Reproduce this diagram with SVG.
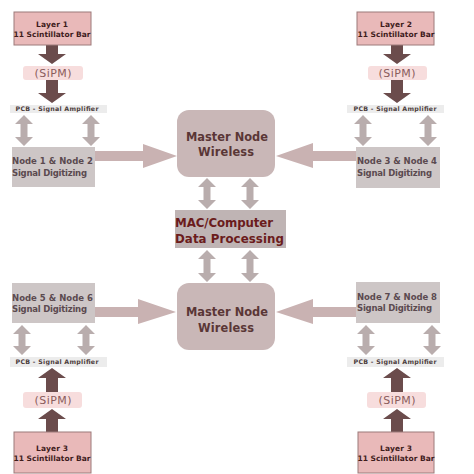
<svg xmlns="http://www.w3.org/2000/svg" width="474" height="474" viewBox="0 0 474 474">
<style>
text{font-family:"DejaVu Sans","Liberation Sans",Arial,sans-serif;font-weight:bold}
.layer{fill:#e9b9b9;stroke:#9c7a7a;stroke-width:1}
.lt{font-size:7.5px;fill:#3f1c1c;text-anchor:middle}
.sipm{fill:#f7dddd}
.st{font-size:11px;font-weight:normal;fill:#8a5c5c;text-anchor:middle}
.pcb{fill:#ececec}
.pt{font-size:6.3px;fill:#4d3d3d;text-anchor:middle}
.node{fill:#cdc6c6}
.nt{font-size:8.5px;fill:#5b4a50}
.master{fill:#c9b7b7}
.mt{font-size:11.4px;fill:#5a3636;text-anchor:middle}
.mac{fill:#bfb4b4}
.ct{font-size:11.8px;fill:#6b1c1c}
.dark{fill:#6b4c4c}
.dbl{fill:#b9adad}
.big{fill:#c9b2b2}
</style>
<g id="connectors">
<path class="dark" d="M46,45 H58 V54 H66 L52,64 L38,54 H46 Z"/>
<path class="dark" d="M46,80 H58 V93 H66 L52,103 L38,93 H46 Z"/>
<path class="dark" d="M391,45 H403 V54 H411 L397,64 L383,54 H391 Z"/>
<path class="dark" d="M391,80 H403 V93 H411 L397,103 L383,93 H391 Z"/>
<path class="dark" d="M46,392 V378 H38 L52,368 L66,378 H58 V392 Z"/>
<path class="dark" d="M46,432 V419 H38 L52,409 L66,419 H58 V432 Z"/>
<path class="dark" d="M391,392 V378 H383 L397,368 L411,378 H403 V392 Z"/>
<path class="dark" d="M391,432 V419 H383 L397,409 L411,419 H403 V432 Z"/>
<path class="dbl" d="M24,115 L33,124 H27.5 V137 H33 L24,146 L15,137 H20.5 V124 H15 Z"/>
<path class="dbl" d="M91,115 L100,124 H94.5 V137 H100 L91,146 L82,137 H87.5 V124 H82 Z"/>
<path class="dbl" d="M363,115 L372,124 H366.5 V137 H372 L363,146 L354,137 H359.5 V124 H354 Z"/>
<path class="dbl" d="M428,115 L437,124 H431.5 V137 H437 L428,146 L419,137 H424.5 V124 H419 Z"/>
<path class="dbl" d="M22,325 L31,334 H25.5 V346 H31 L22,355 L13,346 H18.5 V334 H13 Z"/>
<path class="dbl" d="M86,325 L95,334 H89.5 V346 H95 L86,355 L77,346 H82.5 V334 H77 Z"/>
<path class="dbl" d="M366,325 L375,334 H369.5 V346 H375 L366,355 L357,346 H362.5 V334 H357 Z"/>
<path class="dbl" d="M432,325 L441,334 H435.5 V346 H441 L432,355 L423,346 H428.5 V334 H423 Z"/>
<path class="dbl" d="M207,178 L216,187 H210.5 V200 H216 L207,209 L198,200 H203.5 V187 H198 Z"/>
<path class="dbl" d="M250,178 L259,187 H253.5 V200 H259 L250,209 L241,200 H246.5 V187 H241 Z"/>
<path class="dbl" d="M207,250 L216,259 H210.5 V273 H216 L207,282 L198,273 H203.5 V259 H198 Z"/>
<path class="dbl" d="M250,250 L259,259 H253.5 V273 H259 L250,282 L241,273 H246.5 V259 H241 Z"/>
<path class="big" d="M95,151 H143 V144 L177,156 L143,168 V161 H95 Z"/>
<path class="big" d="M356,151 H313 V143 L276,156 L313,168 V161 H356 Z"/>
<path class="big" d="M95,307 H138 V299 L176,312 L138,324 V317 H95 Z"/>
<path class="big" d="M356,307 H313 V299 L276,312 L313,324 V317 H356 Z"/>
</g>
<g id="layer1"><rect class="layer" x="14" y="12" width="77" height="33"/><text class="lt" x="52" y="27" textLength="32">Layer 1</text><text class="lt" x="52" y="37" textLength="77">11 Scintillator Bar</text></g>
<g id="layer2"><rect class="layer" x="357" y="12" width="77" height="33"/><text class="lt" x="396" y="27" textLength="32">Layer 2</text><text class="lt" x="396" y="37" textLength="77">11 Scintillator Bar</text></g>
<g id="layer3a"><rect class="layer" x="14" y="432" width="77" height="41"/><text class="lt" x="52" y="451" textLength="32">Layer 3</text><text class="lt" x="52" y="461" textLength="77">11 Scintillator Bar</text></g>
<g id="layer3b"><rect class="layer" x="358" y="432" width="76" height="41"/><text class="lt" x="396" y="451" textLength="32">Layer 3</text><text class="lt" x="396" y="461" textLength="77">11 Scintillator Bar</text></g>
<g id="sipm1"><rect class="sipm" x="23" y="66" width="60" height="14" rx="3"/><text class="st" x="53" y="77" textLength="37">(SiPM)</text></g>
<g id="sipm2"><rect class="sipm" x="368" y="66" width="59" height="14" rx="3"/><text class="st" x="397" y="77" textLength="37">(SiPM)</text></g>
<g id="sipm3"><rect class="sipm" x="23" y="392" width="59" height="16" rx="3"/><text class="st" x="53" y="404" textLength="37">(SiPM)</text></g>
<g id="sipm4"><rect class="sipm" x="367" y="392" width="59" height="16" rx="3"/><text class="st" x="397" y="404" textLength="37">(SiPM)</text></g>
<g id="pcb1"><rect class="pcb" x="10" y="105" width="97" height="8"/><text class="pt" x="57" y="111.3" textLength="83">PCB - Signal Amplifier</text></g>
<g id="pcb2"><rect class="pcb" x="347" y="105" width="97" height="8"/><text class="pt" x="395" y="111.3" textLength="83">PCB - Signal Amplifier</text></g>
<g id="pcb3"><rect class="pcb" x="10" y="357" width="97" height="10"/><text class="pt" x="57" y="364.3" textLength="83">PCB - Signal Amplifier</text></g>
<g id="pcb4"><rect class="pcb" x="347" y="357" width="97" height="10"/><text class="pt" x="395" y="364.3" textLength="83">PCB - Signal Amplifier</text></g>
<g id="node12"><rect class="node" x="12" y="147" width="83" height="40"/><text class="nt" x="12" y="164" textLength="81">Node 1 &amp; Node 2</text><text class="nt" x="12" y="176" textLength="75">Signal Digitizing</text></g>
<g id="node34"><rect class="node" x="356" y="147" width="84" height="41"/><text class="nt" x="357" y="164" textLength="80">Node 3 &amp; Node 4</text><text class="nt" x="357" y="176" textLength="75">Signal Digitizing</text></g>
<g id="node56"><rect class="node" x="12" y="283" width="83" height="40"/><text class="nt" x="12" y="301" textLength="81">Node 5 &amp; Node 6</text><text class="nt" x="12" y="312" textLength="75">Signal Digitizing</text></g>
<g id="node78"><rect class="node" x="356" y="282" width="84" height="41"/><text class="nt" x="357" y="300" textLength="80">Node 7 &amp; Node 8</text><text class="nt" x="357" y="311" textLength="75">Signal Digitizing</text></g>
<g id="master1"><rect class="master" x="177" y="110" width="98" height="67" rx="12"/><text class="mt" x="227" y="141" textLength="82">Master Node</text><text class="mt" x="226" y="156" textLength="56">Wireless</text></g>
<g id="master2"><rect class="master" x="177" y="283" width="98" height="67" rx="12"/><text class="mt" x="227" y="316" textLength="82">Master Node</text><text class="mt" x="226" y="332" textLength="56">Wireless</text></g>
<g id="mac"><rect class="mac" x="175" y="210" width="111" height="38"/><text class="ct" x="175" y="227" textLength="98">MAC/Computer</text><text class="ct" x="175" y="243" textLength="109">Data Processing</text></g>
</svg>
